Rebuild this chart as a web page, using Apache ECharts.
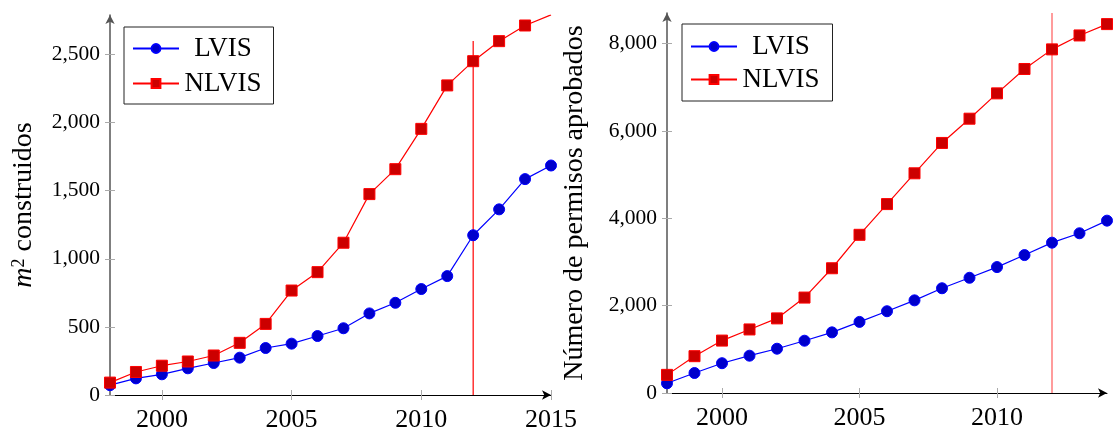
<!DOCTYPE html>
<html>
<head>
<meta charset="utf-8">
<script src="https://cdn.jsdelivr.net/npm/echarts@6/dist/echarts.min.js"></script>
<style>
  html, body { margin: 0; padding: 0; background: #fff; }
  #chart { width: 1115px; height: 433px; }
</style>
</head>
<body>
<div id="chart"></div>
<script>
// Left panel: built square metres per year
const yearsArea = [1998, 1999, 2000, 2001, 2002, 2003, 2004, 2005, 2006, 2007, 2008, 2009, 2010, 2011, 2012, 2013, 2014, 2015];
const lvisArea  = [72, 122, 152, 196, 235, 274, 345, 377, 433, 490, 599, 677, 778, 873, 1173, 1363, 1585, 1685];
const nlvisArea = [91, 169, 215, 246, 290, 383, 522, 767, 902, 1118, 1475, 1658, 1954, 2273, 2451, 2598, 2713, 2791];

// Right panel: number of approved permits per year
const yearsPermits = [1998, 1999, 2000, 2001, 2002, 2003, 2004, 2005, 2006, 2007, 2008, 2009, 2010, 2011, 2012, 2013, 2014];
const lvisPermits  = [222, 458, 682, 854, 1014, 1197, 1388, 1628, 1872, 2121, 2398, 2638, 2883, 3158, 3442, 3657, 3946];
const nlvisPermits = [415, 843, 1200, 1455, 1708, 2185, 2856, 3622, 4325, 5030, 5725, 6280, 6860, 7418, 7867, 8186, 8446];

// Tick positions
const yearTicksArea = [2000, 2005, 2010, 2015];
const yearTicksPermits = [2000, 2005, 2010];
const areaTicks = [0, 500, 1000, 1500, 2000, 2500];
const permitTicks = [0, 2000, 4000, 6000, 8000];

// Reference year marked with a vertical line, and its end points in each panel
const markYear = 2012;
const markLineArea = [[markYear, 0], [markYear, 2600]];
const markLinePermits = [[markYear, 0], [markYear, 8700]];

const areaMax = 2790;
const permitsMax = 8700;

const seriesNames = ['LVIS', 'NLVIS'];
const FONT = "'Liberation Serif', 'DejaVu Serif', serif";

const pairs = (xs, ys) => xs.map((x, i) => [x, ys[i]]);
const thousands = v => v.toLocaleString('en-US');

function mainX(grid, min, max, ticks) {
  return {
    type: 'value', gridIndex: grid, min: min, max: max, position: 'bottom',
    splitLine: { show: false },
    axisLine: { show: true, onZero: false, lineStyle: { color: '#000', width: 1 },
      symbol: ['none', 'arrow'], symbolSize: [7, 9] },
    axisTick: { show: true, length: 5, customValues: ticks, lineStyle: { color: '#aaa', width: 1 } },
    axisLabel: { show: true, customValues: ticks, formatter: v => String(v), margin: 12,
      fontSize: 26, fontFamily: FONT, color: '#000' }
  };
}
function innerX(grid, min, max, ticks) {
  return {
    type: 'value', gridIndex: grid, min: min, max: max, position: 'bottom',
    splitLine: { show: false }, axisLine: { show: false },
    axisTick: { show: true, inside: true, length: 5, customValues: ticks, lineStyle: { color: '#aaa', width: 1 } },
    axisLabel: { show: false }
  };
}
function mainY(grid, max, ticks, name, gap, rich) {
  return {
    type: 'value', gridIndex: grid, min: 0, max: max, position: 'left',
    name: name, nameLocation: 'middle', nameGap: gap, nameRotate: 90,
    nameTextStyle: { fontSize: 28, fontFamily: FONT, color: '#000', rich: rich },
    splitLine: { show: false },
    axisLine: { show: true, onZero: false, lineStyle: { color: '#555', width: 1.5 },
      symbol: ['none', 'arrow'], symbolSize: [7, 9] },
    axisTick: { show: true, length: 5, customValues: ticks, lineStyle: { color: '#aaa', width: 1 } },
    axisLabel: { show: true, customValues: ticks, formatter: thousands, margin: 10,
      fontSize: 21.5, fontFamily: FONT, color: '#000' }
  };
}
function innerY(grid, max, ticks) {
  return {
    type: 'value', gridIndex: grid, min: 0, max: max, position: 'left', offset: 0,
    splitLine: { show: false }, axisLine: { show: false },
    axisTick: { show: true, inside: true, length: 5, customValues: ticks, lineStyle: { color: '#aaa', width: 1 } },
    axisLabel: { show: false }
  };
}

function lvisSeries(axis, data) {
  return {
    name: seriesNames[0], type: 'line', xAxisIndex: axis, yAxisIndex: axis, data: data,
    symbol: 'circle', symbolSize: 11, z: 4,
    lineStyle: { color: '#0000ff', width: 1.2 },
    itemStyle: { color: '#0000cc', borderColor: '#0000ff', borderWidth: 1 }
  };
}
function nlvisSeries(axis, data) {
  return {
    name: seriesNames[1], type: 'line', xAxisIndex: axis, yAxisIndex: axis, data: data,
    symbol: 'rect', symbolSize: 11, z: 4,
    lineStyle: { color: '#ff0000', width: 1.2 },
    itemStyle: { color: '#cc0000', borderColor: '#ff0000', borderWidth: 1 }
  };
}
function markSeries(axis, data, color) {
  return {
    name: 'marca', type: 'line', xAxisIndex: axis, yAxisIndex: axis, data: data,
    symbol: 'none', silent: true, z: 3,
    lineStyle: { color: color, width: 1.2, type: 'solid' }
  };
}

function legendBox(left, top, gap, padding) {
  return {
    left: left, top: top, orient: 'vertical', data: seriesNames,
    itemWidth: 46, itemHeight: 11, itemGap: gap, padding: padding,
    borderColor: '#222', borderWidth: 1, backgroundColor: '#fff',
    formatter: n => '{c|' + n + '}',
    textStyle: { fontSize: 27, fontFamily: FONT, color: '#000',
      rich: { c: { width: 78, align: 'center', fontSize: 27, fontFamily: FONT, color: '#000' } } }
  };
}

const chart = echarts.init(document.getElementById('chart'), null, { renderer: 'canvas' });
chart.setOption({
  animation: false,
  backgroundColor: '#fff',
  grid: [
    { left: 110, top: 15, width: 441, height: 380 },
    { left: 667, top: 13, width: 440, height: 380 }
  ],
  xAxis: [
    mainX(0, yearsArea[0], yearsArea[yearsArea.length - 1], yearTicksArea),
    innerX(0, yearsArea[0], yearsArea[yearsArea.length - 1], yearTicksArea),
    mainX(1, yearsPermits[0], yearsPermits[yearsPermits.length - 1], yearTicksPermits),
    innerX(1, yearsPermits[0], yearsPermits[yearsPermits.length - 1], yearTicksPermits)
  ],
  yAxis: [
    mainY(0, areaMax, areaTicks, '{i|m}{s|2} construidos', 72,
      { i: { fontStyle: 'italic', fontSize: 28, fontFamily: FONT },
        s: { fontSize: 18, fontFamily: FONT, verticalAlign: 'top' } }),
    innerY(0, areaMax, areaTicks),
    mainY(1, permitsMax, permitTicks, 'Número de permisos aprobados', 78, {}),
    innerY(1, permitsMax, permitTicks)
  ],
  legend: [
    legendBox(124, 27, 8, [8, 12, 7, 8]),
    legendBox(682, 24, 6, [9, 13, 8, 8])
  ],
  series: [
    markSeries(0, markLineArea, '#ff0000'),
    lvisSeries(0, pairs(yearsArea, lvisArea)),
    nlvisSeries(0, pairs(yearsArea, nlvisArea)),
    markSeries(2, markLinePermits, '#ff5a5a'),
    lvisSeries(2, pairs(yearsPermits, lvisPermits)),
    nlvisSeries(2, pairs(yearsPermits, nlvisPermits))
  ]
});
</script>
</body>
</html>
